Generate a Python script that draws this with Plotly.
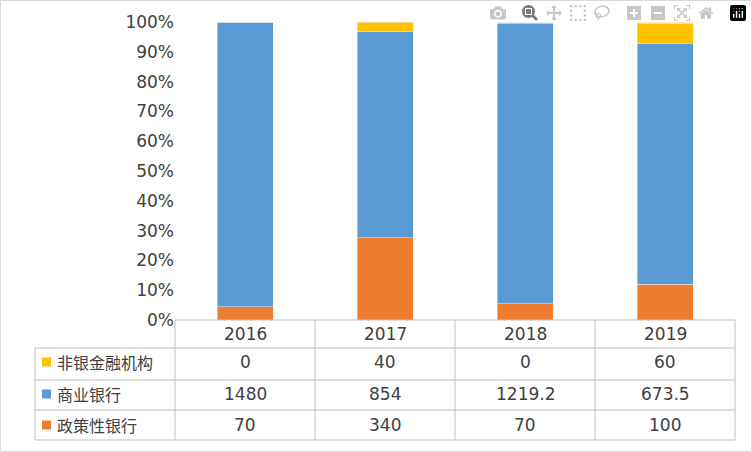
import plotly.graph_objects as go

years = ["2016", "2017", "2018", "2019"]
policy = [70, 340, 70, 100]
commercial = [1480, 854, 1219.2, 673.5]
nonbank = [0, 40, 0, 60]
policy_lbl = ["70", "340", "70", "100"]
commercial_lbl = ["1480", "854", "1219.2", "673.5"]
nonbank_lbl = ["0", "40", "0", "60"]

W, H = 752, 452
L, R, T, B = 175, 17, 22, 132
pw, ph = W - L - R, H - T - B
def px(x): return (x - L) / pw
def py(y): return (H - B - y) / ph

fig = go.Figure()
fig.add_bar(x=years, y=policy, name="政策性银行", marker_color="#ED7D31")
fig.add_bar(x=years, y=commercial, name="商业银行", marker_color="#5B9BD5")
fig.add_bar(x=years, y=nonbank, name="非银金融机构", marker_color="#FFC000")

font = dict(family="DejaVu Sans, Noto Sans CJK SC", size=17, color="#404040")
cfont = dict(family="Noto Sans CJK SC", size=16, color="#404040")
line = dict(color="#BFBFBF", width=1)
shapes = []
shapes.append(dict(type="rect", xref="paper", yref="paper", x0=px(0.5), x1=px(751.5), y0=py(451.5), y1=py(0.5), line=dict(color="#D9D9D9", width=1)))
shapes.append(dict(type="line", xref="paper", yref="paper", x0=px(L), x1=px(735), y0=py(320), y1=py(320), line=line))
for y in [348, 380, 410, 440]:
    shapes.append(dict(type="line", xref="paper", yref="paper", x0=px(35), x1=px(735), y0=py(y), y1=py(y), line=line))
for x in [175, 315, 455, 595, 735]:
    shapes.append(dict(type="line", xref="paper", yref="paper", x0=px(x), x1=px(x), y0=py(320), y1=py(440), line=line))
shapes.append(dict(type="line", xref="paper", yref="paper", x0=px(35), x1=px(35), y0=py(348), y1=py(440), line=line))

ann = []
rows = [("非银金融机构", "#FFC000", nonbank_lbl, 362), ("商业银行", "#5B9BD5", commercial_lbl, 394), ("政策性银行", "#ED7D31", policy_lbl, 425)]
for i, yr in enumerate(years):
    ann.append(dict(xref="paper", yref="paper", x=px(245 + 140 * i), y=py(334), text=yr, showarrow=False,
                    xanchor="center", yanchor="middle", font=font))
for name, col, lbls, yc in rows:
    shapes.append(dict(type="rect", xref="paper", yref="paper", x0=px(42), x1=px(51), y0=py(yc + 4.5), y1=py(yc - 4.5), fillcolor=col, line=dict(width=0)))
    ann.append(dict(xref="paper", yref="paper", x=px(55), y=py(yc), text=name, showarrow=False,
                    xanchor="left", yanchor="middle", font=cfont))
    for i, v in enumerate(lbls):
        ann.append(dict(xref="paper", yref="paper", x=px(245 + 140 * i), y=py(yc), text=v, showarrow=False,
                        xanchor="center", yanchor="middle", font=font))

fig.update_layout(
    barmode="stack", barnorm="percent", bargap=0.6,
    width=W, height=H, margin=dict(l=L, r=R, t=T, b=B),
    paper_bgcolor="white", plot_bgcolor="white", showlegend=False,
    xaxis=dict(showticklabels=False, showgrid=False, zeroline=False),
    yaxis=dict(range=[0, 100], dtick=10, ticksuffix="%", showgrid=False, zeroline=False, tickfont=font, ticks=""),
    shapes=shapes, annotations=ann,
)
fig.write_html("out.html", post_script="document.body.style.margin='0';")
